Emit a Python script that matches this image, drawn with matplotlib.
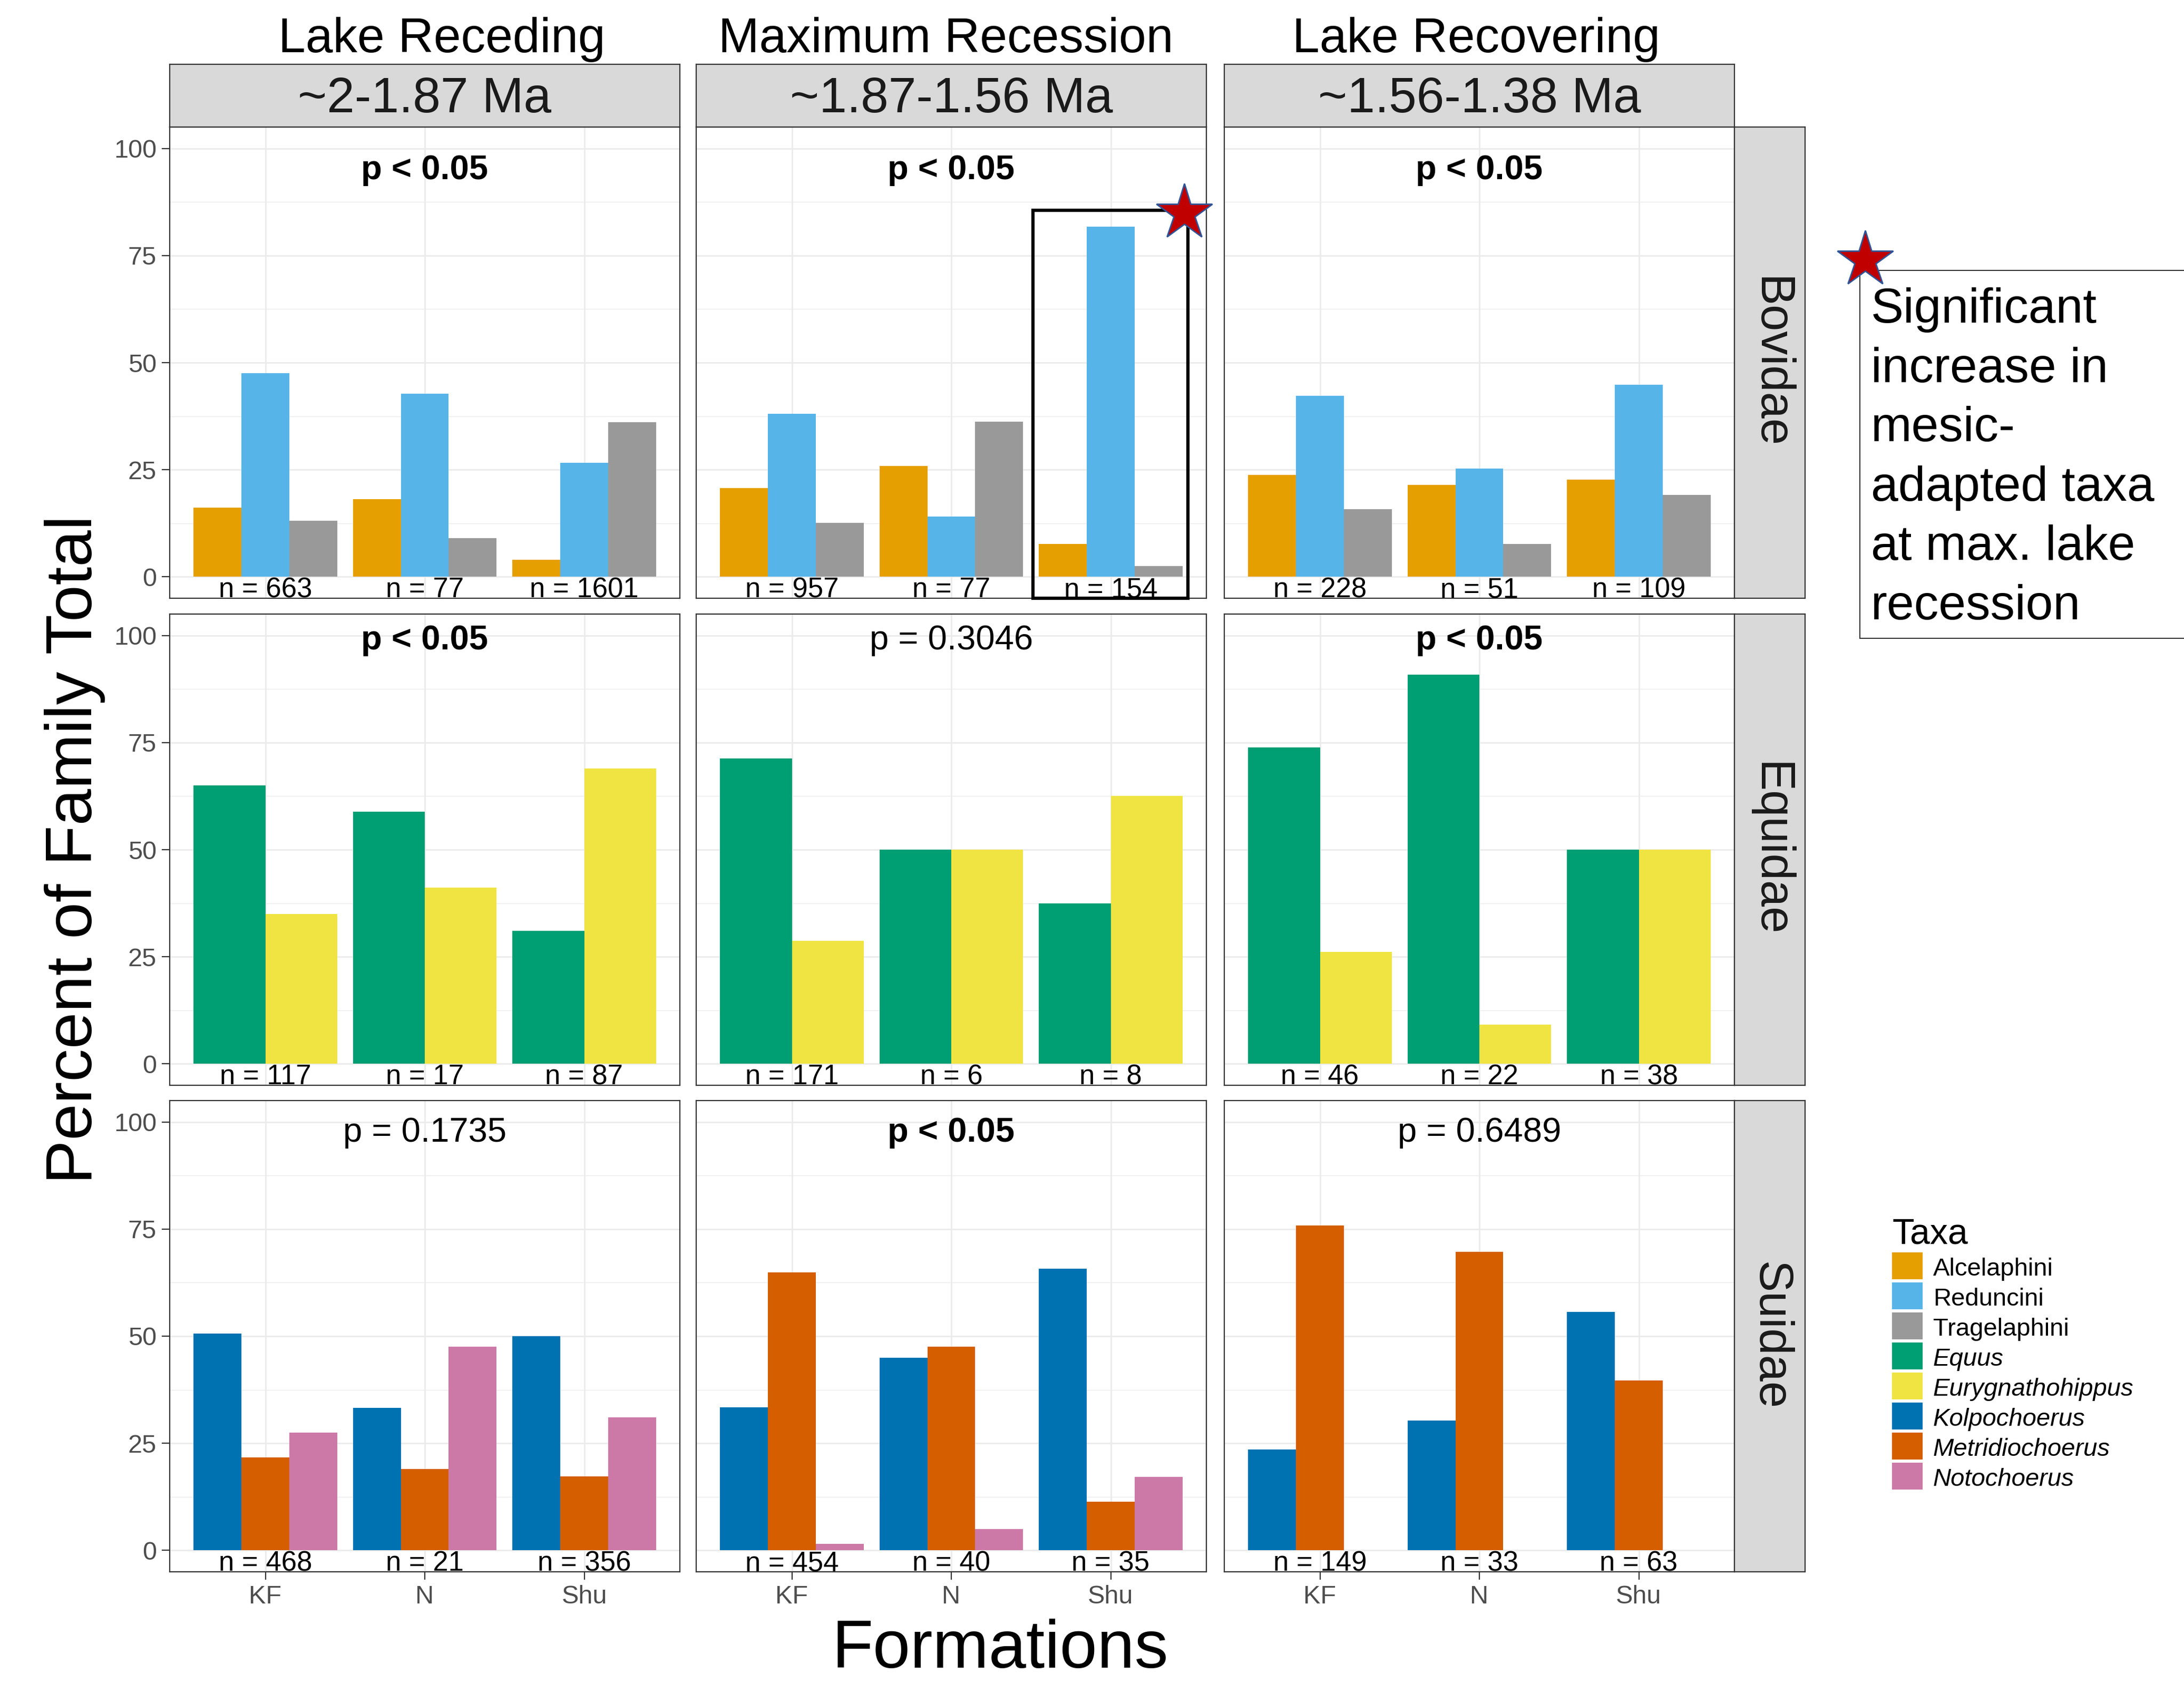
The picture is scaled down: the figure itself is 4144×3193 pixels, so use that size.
import matplotlib
matplotlib.use("Agg")
import matplotlib.pyplot as plt
from matplotlib.patches import Rectangle
import numpy as np

plt.rcParams['font.family'] = ['Liberation Sans', 'DejaVu Sans']

W, H = 4144, 3193
DPI = 100

# ---------------- data ----------------
formations = ["KF", "N", "Shu"]
periods = ["Lake Receding", "Maximum Recession", "Lake Recovering"]
period_ages = ["~2-1.87 Ma", "~1.87-1.56 Ma", "~1.56-1.38 Ma"]
families = ["Bovidae", "Equidae", "Suidae"]

# percent of family total, indexed [period][formation]
alcelaphini = [[16.2, 18.1, 4.0], [20.7, 25.9, 7.7], [23.8, 21.4, 22.7]]
reduncini = [[47.5, 42.7, 26.6], [38.1, 14.1, 81.7], [42.3, 25.3, 44.8]]
tragelaphini = [[13.1, 9.0, 36.1], [12.6, 36.2, 2.5], [15.8, 7.7, 19.1]]
equus = [[65.0, 58.8, 31.0], [71.3, 50.0, 37.5], [73.9, 90.9, 50.0]]
eurygnathohippus = [[35.0, 41.2, 69.0], [28.7, 50.0, 62.5], [26.1, 9.1, 50.0]]
kolpochoerus = [[50.6, 33.3, 50.0], [33.4, 45.0, 65.7], [23.5, 30.3, 55.6]]
metridiochoerus = [[21.7, 19.0, 17.3], [64.9, 47.5, 11.4], [75.8, 69.7, 39.7]]
notochoerus = [[27.5, 47.6, 31.1], [1.5, 5.0, 17.1], [0.0, 0.0, 0.0]]

bovidae_n = [[663, 77, 1601], [957, 77, 154], [228, 51, 109]]
equidae_n = [[117, 17, 87], [171, 6, 8], [46, 22, 38]]
suidae_n = [[468, 21, 356], [454, 40, 35], [149, 33, 63]]

bovidae_p = ["p < 0.05", "p < 0.05", "p < 0.05"]
equidae_p = ["p < 0.05", "p = 0.3046", "p < 0.05"]
suidae_p = ["p = 0.1735", "p < 0.05", "p = 0.6489"]

taxa_names = ["Alcelaphini", "Reduncini", "Tragelaphini", "Equus",
              "Eurygnathohippus", "Kolpochoerus", "Metridiochoerus", "Notochoerus"]
taxa_colors = ["#E69F00", "#56B4E9", "#999999", "#009E73",
               "#F0E442", "#0072B2", "#D55E00", "#CC79A7"]
taxa_italic = [False, False, False, True, True, True, True, True]

family_series = [
    [alcelaphini, reduncini, tragelaphini],
    [equus, eurygnathohippus],
    [kolpochoerus, metridiochoerus, notochoerus],
]
family_colors = [taxa_colors[0:3], taxa_colors[3:5], taxa_colors[5:8]]
family_n = [bovidae_n, equidae_n, suidae_n]
family_p = [bovidae_p, equidae_p, suidae_p]

annotation_lines = ["Significant", "increase in", "mesic-", "adapted taxa",
                    "at max. lake", "recession"]

# ---------------- layout (pixels) ----------------
col_left = [322, 1321, 2323]
col_w = 968
row_top = [241, 1165, 2088]
row_h = 894
strip_top = 122
strip_right_x0 = 3291
strip_right_x1 = 3425
p_baseline = [92.8, 96.8, 95.4]
title_dx = [32, -10, -6]


def rect(x0, y0, w, h):
    return [x0 / W, 1 - (y0 + h) / H, w / W, h / H]


fig = plt.figure(figsize=(W / DPI, H / DPI), dpi=DPI)
fig.patch.set_facecolor("white")

border_c = "#333333"
grid_c = "#EBEBEB"
tick_c = "#4D4D4D"
strip_c = "#D9D9D9"

axes = {}
x = np.arange(1, len(formations) + 1)
for r, fam in enumerate(families):
    for c in range(3):
        ax = fig.add_axes(rect(col_left[c], row_top[r], col_w, row_h))
        axes[(r, c)] = ax
        series = family_series[r]
        k = len(series)
        bw = 0.9 / k
        for i, s in enumerate(series):
            off = (i - (k - 1) / 2) * bw
            ax.bar(x + off, s[c], width=bw, color=family_colors[r][i],
                   linewidth=0, zorder=2)
        ax.set_xlim(0.4, 3.6)
        ax.set_ylim(-5, 105)
        ax.set_xticks(x)
        ax.set_xticklabels(formations)
        ax.set_yticks([0, 25, 50, 75, 100])
        ax.set_yticks([12.5, 37.5, 62.5, 87.5], minor=True)
        ax.set_axisbelow(True)
        ax.grid(which="major", color=grid_c, linewidth=2.0, zorder=0)
        ax.grid(which="minor", axis="y", color=grid_c, linewidth=1.0, zorder=0)
        for sp in ax.spines.values():
            sp.set_color(border_c)
            sp.set_linewidth(1.6)
        ax.tick_params(which="minor", length=0)
        ax.tick_params(axis="both", which="major", colors=border_c,
                       labelcolor=tick_c, labelsize=35, width=1.6,
                       length=11, pad=7)
        if c != 0:
            ax.tick_params(axis="y", length=0, labelleft=False)
        if r != 2:
            ax.tick_params(axis="x", length=0, labelbottom=False)
        # p-value label
        ptxt = family_p[r][c]
        ax.text(2, p_baseline[r], ptxt, ha="center", va="baseline", fontsize=47,
                fontweight="bold" if "<" in ptxt else "normal", color="black",
                zorder=5)
        # n labels
        for j, n in enumerate(family_n[r][c]):
            ax.text(x[j], -4.8, f"n = {n}", ha="center", va="baseline",
                    fontsize=38, color="black", zorder=5, clip_on=True)

    # right strip
    sax = fig.add_axes(rect(strip_right_x0, row_top[r],
                            strip_right_x1 - strip_right_x0, row_h))
    sax.set_facecolor(strip_c)
    sax.set_xticks([])
    sax.set_yticks([])
    for sp in sax.spines.values():
        sp.set_color(border_c)
        sp.set_linewidth(1.6)
    sax.text(0.5, 0.5, fam, rotation=-90, ha="center", va="center",
             fontsize=65, color="#1A1A1A", transform=sax.transAxes)

# top strips
for c in range(3):
    tax = fig.add_axes(rect(col_left[c], strip_top, col_w, row_top[0] - strip_top))
    tax.set_facecolor(strip_c)
    tax.set_xticks([])
    tax.set_yticks([])
    for sp in tax.spines.values():
        sp.set_color(border_c)
        sp.set_linewidth(1.6)

# highlight box and star in Maximum Recession / Bovidae panel
hax = axes[(0, 1)]
hax.add_patch(Rectangle((2.513, -5.0), 0.97, 90.5, fill=False,
                        edgecolor="black", linewidth=4.5, clip_on=False, zorder=6))
hax.plot([3.46], [85.0], marker="*", markersize=80, color="#C00000",
         markeredgecolor="#2F5597", markeredgewidth=2, clip_on=False, zorder=7)

# ---------------- overlay (pixel coordinates) ----------------
ov = fig.add_axes([0, 0, 1, 1], zorder=10)
ov.set_xlim(0, W)
ov.set_ylim(H, 0)
ov.axis("off")

for c in range(3):
    cx = col_left[c] + col_w / 2
    ov.text(cx + title_dx[c], 99, periods[c], ha="center", va="baseline",
            fontsize=67, color="black")
    ov.text(cx, 213, period_ages[c], ha="center", va="baseline",
            fontsize=68, color="#1A1A1A")

# axis titles
ov.text(1898, 3164, "Formations", ha="center", va="baseline", fontsize=92,
        color="black")
ov.text(174, 1612, "Percent of Family Total", rotation=90, rotation_mode="anchor",
        ha="center", va="baseline", fontsize=90, color="black")

# annotation box
ov.add_patch(Rectangle((3529, 513), 700, 698, fill=False, edgecolor="#333333",
                       linewidth=1.5, clip_on=False))
for i, line in enumerate(annotation_lines):
    ov.text(3550, 612 + i * 112.6, line, ha="left", va="baseline", fontsize=67,
            color="black")
ov.plot([3539], [493], marker="*", markersize=80, color="#C00000",
        markeredgecolor="#2F5597", markeredgewidth=2, zorder=12)

# legend
ov.text(3590, 2360, "Taxa", ha="left", va="baseline", fontsize=49, color="black")
for i, (name, col, it) in enumerate(zip(taxa_names, taxa_colors, taxa_italic)):
    top = 2376 + i * 57
    ov.add_patch(Rectangle((3590, top), 57.5, 51, facecolor=col, edgecolor="none"))
    ov.text(3668, top + 44, name, ha="left", va="baseline", fontsize=34,
            style="italic" if it else "normal", color="black")

fig.savefig("out.png", dpi=DPI, facecolor="white")
